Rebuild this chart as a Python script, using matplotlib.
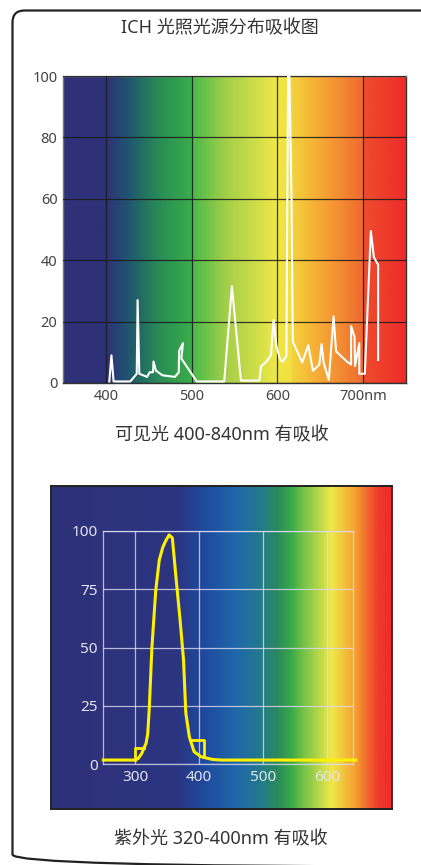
import matplotlib
matplotlib.use("Agg")
import matplotlib.pyplot as plt
import numpy as np
from matplotlib.colors import LinearSegmentedColormap
from matplotlib.patches import FancyBboxPatch

plt.rcParams['font.family'] = ['Noto Sans', 'Noto Sans CJK SC', 'DejaVu Sans']

# visible light absorption (white trace)
vis_wl = [404, 406.5, 409, 428.5, 436, 437, 439, 448, 451, 455, 455.5, 458.5, 466,
          480.5, 485, 485.5, 490, 488, 506, 538, 547, 557.5, 579, 581, 586.5,
          592.5, 595.5, 599, 603, 606, 610.5, 612.5, 614, 616.5, 618, 622.5, 629,
          636, 641.5, 649, 651.5, 654, 660, 665.5, 668.5, 681, 686, 686, 690,
          690.5, 695.5, 695.5, 702, 709, 712.5, 717.5, 717.5]
vis_abs = [0.5, 9, 0.5, 0.5, 3, 27, 3, 2, 3.5, 3.5, 7, 4, 2.5,
           2, 3.5, 10.5, 13, 8, 0.5, 0.5, 31.5, 0.8, 0.8, 5.5, 6.7,
           9, 20.5, 12, 7.7, 7, 8.7, 100, 100, 60, 13.5, 10.7, 6.7,
           12.3, 4, 6, 12.7, 6.5, 1, 21.7, 10.3, 7, 6, 18.5, 15,
           5.5, 13, 3, 3, 49.5, 41, 38.5, 7.5]

# UV absorption (yellow trace)
uv_wl = [250, 300, 305, 310, 314, 317, 319.5, 322, 326, 332, 337.5, 343, 348, 353,
         358, 363.5, 370, 375.5, 379, 384.5, 392, 403, 420, 434, 645]
uv_abs = [1.7, 1.7, 2.5, 4.5, 7, 9, 13, 24.5, 50, 74.5, 87.5, 93, 96, 98.3,
          97, 80.5, 62, 44.5, 22, 11.7, 5.3, 3.1, 2, 1.7, 1.7]
uv_box1_wl = [300, 300, 314]
uv_box1_abs = [1.7, 7, 7]
uv_box2_wl = [386, 407, 407]
uv_box2_abs = [10.4, 10.4, 3]

vis_xticks = [400, 500, 600, 700]
vis_xlabels = ['400', '500', '600', '700nm']
vis_yticks = [0, 20, 40, 60, 80, 100]
uv_xticks = [300, 400, 500, 600]
uv_yticks = [0, 25, 50, 75, 100]

title = 'ICH 光照光源分布吸收图'
vis_caption = '可见光 400-840nm 有吸收'
uv_caption = '紫外光 320-400nm 有吸收'

# background spectrum colour stops (wavelength, colour)
vis_stops = [(350, '#2e3178'), (400, '#2e3178'), (425, '#1f5470'), (460, '#288a56'),
             (499, '#3aad4a'), (501, '#4cba4a'), (540, '#a4cf48'), (598, '#eee84a'),
             (600, '#f0e644'), (615, '#f0e040'), (617, '#f3d23e'), (650, '#f6a834'),
             (699, '#f06a30'), (701, '#ee4c2e'), (750, '#ee2a2a')]
uv_stops = [(170, '#2e3178'), (365, '#2c3480'), (410, '#1f4a9e'), (457, '#2066aa'),
            (494, '#227890'), (524, '#2a8a5c'), (546, '#3caa48'), (561, '#6cbf48'),
            (608, '#f0e84a'), (645, '#f5a030'), (681, '#ee3a2c'), (702, '#ee2a2a')]


def stops_cmap(stops):
    lo, hi = stops[0][0], stops[-1][0]
    return LinearSegmentedColormap.from_list(
        'spec', [((w - lo) / (hi - lo), c) for w, c in stops], N=1024), lo, hi


def draw_gradient(ax, stops, ymin, ymax):
    cmap, lo, hi = stops_cmap(stops)
    grad = np.linspace(0, 1, 1024)[None, :]
    ax.imshow(grad, cmap=cmap, aspect='auto', extent=[lo, hi, ymin, ymax],
              origin='lower', zorder=0, interpolation='bilinear')


W, H = 421, 865
fig = plt.figure(figsize=(W / 100, H / 100), dpi=100)

# rounded frame
frame = fig.add_axes([0, 0, 1, 1])
frame.set_xlim(0, W)
frame.set_ylim(H, 0)
frame.axis('off')
frame.add_patch(FancyBboxPatch((12.5, 10.5), 440, 856,
                               boxstyle='round,pad=0,rounding_size=12',
                               fill=False, ec='#222222', lw=1.6, clip_on=False))


def fax(x0, y0, x1, y1):
    return fig.add_axes([x0 / W, 1 - y1 / H, (x1 - x0) / W, (y1 - y0) / H])


# visible chart
ax1 = fax(63, 76, 406, 383)
draw_gradient(ax1, vis_stops, 0, 100)
ax1.plot(vis_wl, vis_abs, color='white', lw=1.5, zorder=3)
ax1.set_xlim(350, 750)
ax1.set_ylim(0, 100)
ax1.set_xticks(vis_xticks)
ax1.set_xticklabels(vis_xlabels)
ax1.set_yticks(vis_yticks)
ax1.grid(True, color='#1a1a1a', lw=0.9, alpha=0.85)
ax1.set_axisbelow(False)
ax1.tick_params(length=0, labelsize=10.5, labelcolor='#444444', pad=4)
for s in ax1.spines.values():
    s.set_color('#333333')
    s.set_linewidth(1.0)
ax1.spines['top'].set_color('#999999')
ax1.spines['left'].set_color('#777777')

# UV chart background and axes
bg = fax(51, 486, 392, 809)
draw_gradient(bg, uv_stops, 0, 1)
bg.set_xlim(170, 702)
bg.set_ylim(0, 1)
bg.set_xticks([])
bg.set_yticks([])
for s in bg.spines.values():
    s.set_color('#222222')
    s.set_linewidth(1.4)
bg.spines['right'].set_color('#6a1e1e')

ax2 = fax(103.3, 531, 352.7, 764)
ax2.set_facecolor('none')
ax2.set_xlim(250, 640)
ax2.set_ylim(0, 100)
ax2.set_xticks(uv_xticks)
ax2.set_yticks(uv_yticks)
ax2.grid(True, color='#dcdcf0', lw=0.9, alpha=0.8)
ax2.tick_params(length=0, labelsize=11, labelcolor='#e4e4f0', pad=4)
for s in ax2.spines.values():
    s.set_color('#dcdcf0')
    s.set_alpha(0.8)
    s.set_linewidth(0.9)
ax2.plot(uv_wl, uv_abs, color='#fff000', lw=2.2, zorder=4, clip_on=False,
         solid_joinstyle='round')
ax2.plot(uv_box1_wl, uv_box1_abs, color='#fff000', lw=2.0, zorder=4)
ax2.plot(uv_box2_wl, uv_box2_abs, color='#fff000', lw=2.0, zorder=4)

# texts
fig.text(220 / W, 1 - 28 / H, title, ha='center', va='center', fontsize=13,
         color='#333333', family=['Noto Sans', 'Noto Sans CJK SC'])
fig.text(222 / W, 1 - 435 / H, vis_caption, ha='center', va='center', fontsize=13,
         color='#333333', family=['Noto Sans', 'Noto Sans CJK SC'])
fig.text(221 / W, 1 - 839 / H, uv_caption, ha='center', va='center', fontsize=13,
         color='#333333', family=['Noto Sans', 'Noto Sans CJK SC'])

fig.savefig('out.png', dpi=100)
